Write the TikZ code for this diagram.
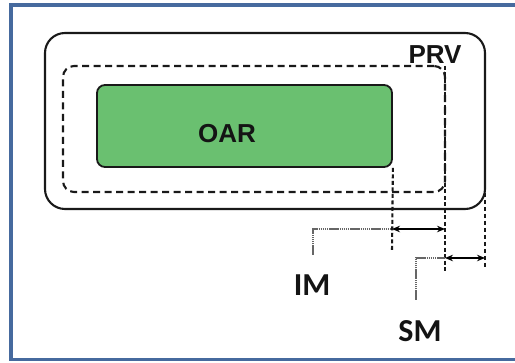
\documentclass[tikz,border=0pt]{standalone}
\usepackage{fontspec}
\setmainfont{Liberation Sans}
\newfontfamily\calib{Carlito}[BoldFont={Carlito Bold}]
\newfontfamily\arialb{Liberation Sans Bold}
\usetikzlibrary{arrows.meta}
\definecolor{framebl}{RGB}{70,106,158}
\definecolor{oargreen}{RGB}{106,192,112}
\tikzset{
  oarbox/.style={draw=black!90, line width=1.8pt, fill=oargreen, rounded corners=8pt, inner sep=0pt},
  imbox/.style={draw=black!90, line width=2.1pt, dash pattern=on 7pt off 4.5pt, rounded corners=11pt, inner sep=0pt},
  prvbox/.style={draw=black!90, line width=2.1pt, rounded corners=20pt, inner sep=0pt},
  dotline/.style={black!90, line width=2.1pt, dash pattern=on 4pt off 2.5pt},
  dotthick/.style={black!90, line width=2.9pt, dash pattern=on 4.5pt off 2.5pt},
  leader/.style={black!60, line width=1.1pt, dash pattern=on 1.5pt off 0.6pt},
  dimarrow/.style={black, line width=1.8pt, {Stealth[length=8pt,width=6.5pt]}-{Stealth[length=8pt,width=6.5pt]}},
  bigtxt/.style={font=\arialb\fontsize{26}{28}\selectfont, text=black!92},
  lbltxt/.style={font=\calib\bfseries\fontsize{32}{34}\selectfont, text=black!92}
}
\begin{document}
\begin{tikzpicture}[x=1pt,y=-1pt]
\useasboundingbox (0,0) rectangle (515,363);
\draw[framebl, line width=3.8pt] (516,5) -- (11,5) -- (11,359.5) -- (516,359.5);
% boxes
\node[prvbox, minimum width=440pt, minimum height=176pt] (prv) at (265,121) {};
\node[imbox, minimum width=382pt, minimum height=126pt] (im) at (254,129) {};
\node[oarbox, minimum width=295pt, minimum height=82pt] (oar) at (244.5,126) {};
\node[bigtxt] (oartxt) at (227,134) {OAR};
\node[bigtxt] (prvtxt) at (435,55) {PRV};
% dimension guide lines
\coordinate (g1top) at (oar.south east);
\coordinate (g1bot) at (392,252);
\coordinate (g2top) at (445,66);
\coordinate (g2bot) at (445,272);
\coordinate (g3top) at (485,193);
\coordinate (g3bot) at (485,268);
\draw[dotline] (g1top) -- (g1bot);
\draw[dotline] (g2top) -- (g2bot);
\draw[dotthick] (g3top) -- (g3bot);
% arrows
\coordinate (a1l) at (392,229);
\coordinate (a1r) at (445,229);
\coordinate (a2l) at (445,258);
\coordinate (a2r) at (485,258);
\draw[dimarrow] (a1l) -- (a1r);
\draw[dimarrow] (a2l) -- (a2r);
% labels
\node[lbltxt] (imlab) at (312,285) {IM};
\node[lbltxt] (smlab) at (420,331) {SM};
\coordinate (l1) at (313,255);
\coordinate (l2) at (416,300);
\draw[leader] (l1) |- (a1l);
\draw[leader] (l2) |- (a2l);
\end{tikzpicture}
\end{document}
